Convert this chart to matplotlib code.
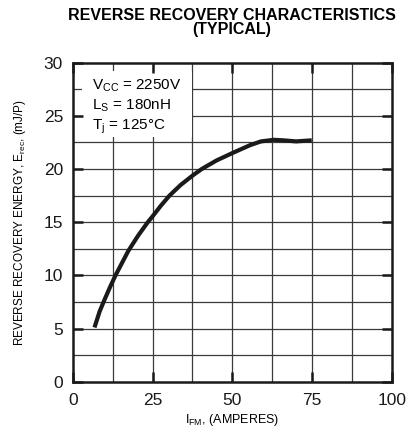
import numpy as np
import matplotlib
matplotlib.use("Agg")
import matplotlib.pyplot as plt
from matplotlib.patches import Rectangle

plt.rcParams["font.family"] = ["Liberation Sans", "DejaVu Sans"]
plt.rcParams["mathtext.fontset"] = "custom"
plt.rcParams["mathtext.rm"] = "Liberation Sans"
plt.rcParams["mathtext.it"] = "Liberation Sans:italic"

# curve (I_FM in A, E_rec in mJ/P)
i_fm = [6.8, 8.4, 10.0, 11.6, 13.3, 15.3, 17.4, 20.5, 23.5, 25.0, 27.6, 30.3, 33.8, 37.6,
        40.4, 45.0, 50.0, 55.6, 59.0, 63.0, 66.0, 70.0, 74.9]
e_rec = [5.1, 6.6, 7.75, 8.85, 9.95, 11.1, 12.3, 13.75, 15.0, 15.55, 16.55, 17.5, 18.5, 19.4,
         20.0, 20.8, 21.5, 22.25, 22.6, 22.75, 22.7, 22.6, 22.7]

x_ticks = [0, 25, 50, 75, 100]
y_ticks = [0, 5, 10, 15, 20, 25, 30]
conditions = [r"V$_\mathrm{CC}$ = 2250V", r"L$_\mathrm{S}$ = 180nH", r"T$_\mathrm{j}$ = 125°C"]

fig = plt.figure(figsize=(4.09, 4.34), dpi=100)
ax = fig.add_axes([0.178, 0.1205, 0.78, 0.735])
ax.set_xlim(0, 100); ax.set_ylim(0, 30)

# grid every half major step
ax.vlines(np.arange(12.5, 100, 12.5), 0, 30, color="#3a3a3a", lw=0.9, zorder=1)
ax.hlines(np.arange(2.5, 30, 2.5), 0, 100, color="#3a3a3a", lw=0.9, zorder=1)

# white box behind the test conditions
ax.add_patch(Rectangle((3, 23.0), 34.3, 6.2, facecolor="white", edgecolor="none", zorder=2))
for k, s in enumerate(conditions):
    ax.text(6.0, 27.5 - 1.88 * k, s, fontsize=11, va="baseline", ha="left", zorder=3)

ax.plot(i_fm, e_rec, color="#1a1a1a", lw=3.0, solid_capstyle="butt",
        solid_joinstyle="round", zorder=4)

ax.set_axisbelow(False)
ax.set_xticks(x_ticks); ax.set_yticks(y_ticks)
ax.tick_params(direction="in", length=7, width=1.8, top=True, right=True,
               labelsize=12.5, colors="#1a1a1a")
ax.tick_params(axis="x", pad=8)
ax.tick_params(axis="y", pad=7)
for sp in ax.spines.values():
    sp.set_linewidth(1.8); sp.set_color("#1a1a1a")

ax.set_xlabel(r"I$_\mathrm{FM}$, (AMPERES)", fontsize=9, labelpad=3)
ax.set_ylabel(r"REVERSE RECOVERY ENERGY, E$_\mathrm{rec}$, (mJ/P)", fontsize=8.5, labelpad=11)

fig.text(0.567, 0.964, "REVERSE RECOVERY CHARACTERISTICS", ha="center", va="center",
         fontsize=11.5, fontweight="bold")
fig.text(0.567, 0.932, "(TYPICAL)", ha="center", va="center", fontsize=11.5, fontweight="bold")

fig.savefig("out.png", dpi=100)
